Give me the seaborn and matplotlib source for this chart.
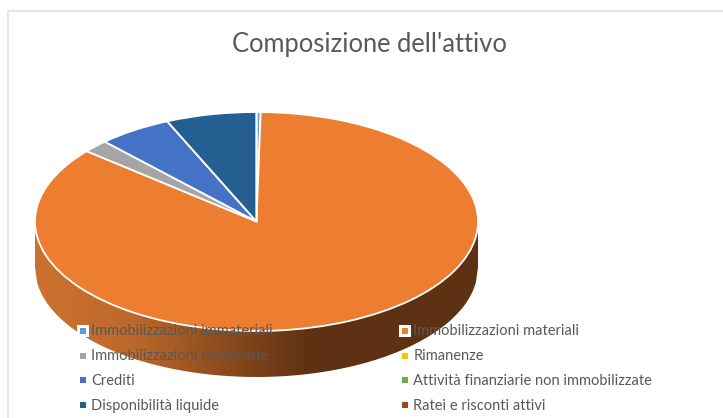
import numpy as np
import matplotlib
matplotlib.use("Agg")
import matplotlib.pyplot as plt
import seaborn as sns
from matplotlib.colors import LinearSegmentedColormap
from matplotlib.legend_handler import HandlerTuple
from matplotlib.lines import Line2D
from matplotlib.patches import PathPatch
from matplotlib.path import Path

# data (percent of total)
categories = ["Immobilizzazioni immateriali", "Immobilizzazioni materiali",
              "Immobilizzazioni finanziarie", "Rimanenze", "Crediti",
              "Attività finanziarie non immobilizzate", "Disponibilità liquide",
              "Ratei e risconti attivi"]
values = [0.3, 85.8, 1.9, 0.0, 5.4, 0.0, 6.6, 0.0]
colors = ["#5B9BD5", "#ED7D31", "#A5A5A5", "#FFC000", "#4472C4", "#70AD47", "#255E91", "#9E480E"]
title = "Composizione dell'attivo"

sns.set_theme(style="white")
plt.rcParams["font.family"] = ["Lato", "DejaVu Sans"]
palette = sns.color_palette(colors)
text_col = "#595959"

W, H = 723, 418
fig = plt.figure(figsize=(W / 100, H / 100), dpi=100)

# pie is a circle squashed by the axes, to get the tilted look
cx, cy, rx, ry = 256.5, 221.5, 221.5, 109.5
depth = 46 / ry
xlim = (-1.2, 1.2)
ylim = (-1.8, 1.2)
left = cx + xlim[0] * rx
top = cy - ylim[1] * ry
ax = fig.add_axes([left / W, 1 - (top + (ylim[1] - ylim[0]) * ry) / H,
                   (xlim[1] - xlim[0]) * rx / W, (ylim[1] - ylim[0]) * ry / H])

wedges, _ = ax.pie(values, colors=palette, startangle=90, counterclock=False, radius=1,
                   wedgeprops=dict(edgecolor="white", linewidth=1.3, zorder=3))

# side wall of the disc, dark gradient
side_cmap = LinearSegmentedColormap.from_list(
    "side", [(0, "#CC7230"), (0.22, "#BD682B"), (0.5, "#7B4119"), (0.62, "#5E3113"), (1, "#5E3113")])
im = ax.imshow(np.linspace(0, 1, 256).reshape(1, -1), cmap=side_cmap, aspect="auto",
               extent=(-1, 1, -1 - depth, 0), zorder=1)
xs = np.linspace(-1, 1, 200)
low = -np.sqrt(1 - xs ** 2) - depth
verts = [(-1, 0)] + list(zip(xs, low)) + [(1, 0), (-1, 0)]
clip = PathPatch(Path(verts), transform=ax.transData, facecolor="none", edgecolor="none")
ax.add_patch(clip)
im.set_clip_path(clip)

ax.set_aspect("auto")
ax.set_xlim(xlim)
ax.set_ylim(ylim)
ax.axis("off")

# chart frame, cut by the picture edges
fig.add_artist(Line2D([8 / W, 8 / W], [0, 1 - 11 / H], color="#E2E2E2", lw=1.2))
fig.add_artist(Line2D([8 / W, 1], [1 - 11 / H, 1 - 11 / H], color="#E2E2E2", lw=1.2))

fig.text(369.5 / W, 1 - 44.5 / H, title, ha="center", va="center", fontsize=18.4, color=text_col)

# legend reads row by row, matplotlib fills by column
# first two keys sit on a white box
handles = []
for i, c in enumerate(palette):
    key = Line2D([], [], marker="s", ms=4.4, color=c, ls="none", mew=0)
    if i < 2:
        box = Line2D([], [], marker="s", ms=8.6, color="white", ls="none", mew=0)
        handles.append((box, key))
    else:
        handles.append((key,))
order = [0, 2, 4, 6, 1, 3, 5, 7]
leg = fig.legend([handles[i] for i in order], [categories[i] for i in order], ncol=2,
                 loc="upper left", bbox_to_anchor=(75 / W, 1 - 320 / H), frameon=False,
                 fontsize=10.5, labelcolor=text_col, handlelength=0.45, handleheight=0.45,
                 handletextpad=0.37, labelspacing=0.735, columnspacing=8.8,
                 borderpad=0.3, borderaxespad=0,
                 handler_map={tuple: HandlerTuple(ndivide=1, pad=0)})
leg.set_zorder(10)

fig.savefig("out.png", dpi=100)
